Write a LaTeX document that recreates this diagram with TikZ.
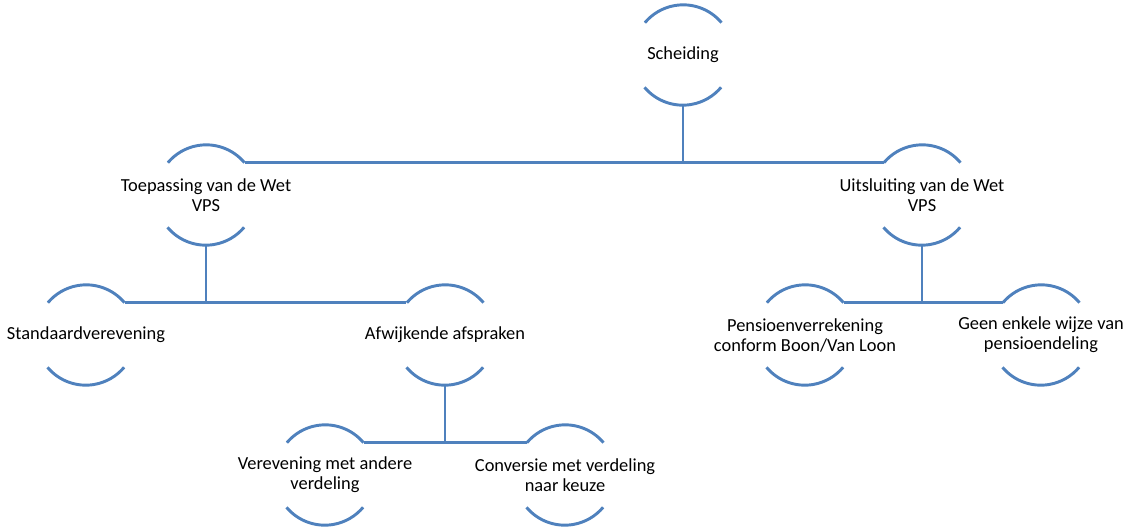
\documentclass[tikz,border=0pt]{standalone}
\usepackage{fontspec}
\setmainfont{Carlito}
\usepackage{tikz}
\definecolor{arcblue}{RGB}{79,129,189}
\tikzset{box/.style={circle,inner sep=0pt,minimum size=75pt,
                     label={[align=center,font=\fontsize{13.8}{15}\selectfont]center:#1}}}
\tikzset{arcline/.style={arcblue,line width=2.2pt}}
\tikzset{link/.style={arcblue,line width=2.2pt}}

\begin{document}
\begin{tikzpicture}[x=0.75pt,y=0.75pt]
                    \useasboundingbox (0,0) rectangle (1129,-529);

                    \node[box={Scheiding}] (schei) at (683,-55) {};
                    \node[box={Toepassing van de Wet\\VPS}] (toep) at (206,-195) {};
                    \node[box={Uitsluiting van de Wet\\VPS}] (uits) at (922,-195) {};
                    \node[box={Standaardverevening}] (stand) at (86,-335) {};
                    \node[box={Afwijkende afspraken}] (afw) at (445,-335) {};
                    \node[box={Pensioenverrekening\\conform Boon/Van Loon}] (pens) at (805,-335) {};
                    \node[box={Geen enkele wijze van\\pensioendeling}] (geen) at (1041,-335) {};
                    \node[box={Verevening met andere\\verdeling}] (vere) at (325,-475) {};
                    \node[box={Conversie met verdeling\\naar keuze}] (conv) at (565,-475) {};

                    \foreach \n in {schei,toep,uits,stand,afw,pens,geen,vere,conv}
                        \draw[arcline] (\n.40) arc[start angle=40,end angle=140,radius=37.5pt]
                                       (\n.220) arc[start angle=220,end angle=320,radius=37.5pt];

                    \draw[link] (schei.south) |- (toep.40);
                    \draw[link] (schei.south) |- (uits.140);
                    \draw[link] (toep.south) |- (stand.40);
                    \draw[link] (toep.south) |- (afw.140);
                    \draw[link] (uits.south) |- (pens.40);
                    \draw[link] (uits.south) |- (geen.140);
                    \draw[link] (afw.south) |- (vere.40);
                    \draw[link] (afw.south) |- (conv.140);
                \end{tikzpicture}
\end{document}
